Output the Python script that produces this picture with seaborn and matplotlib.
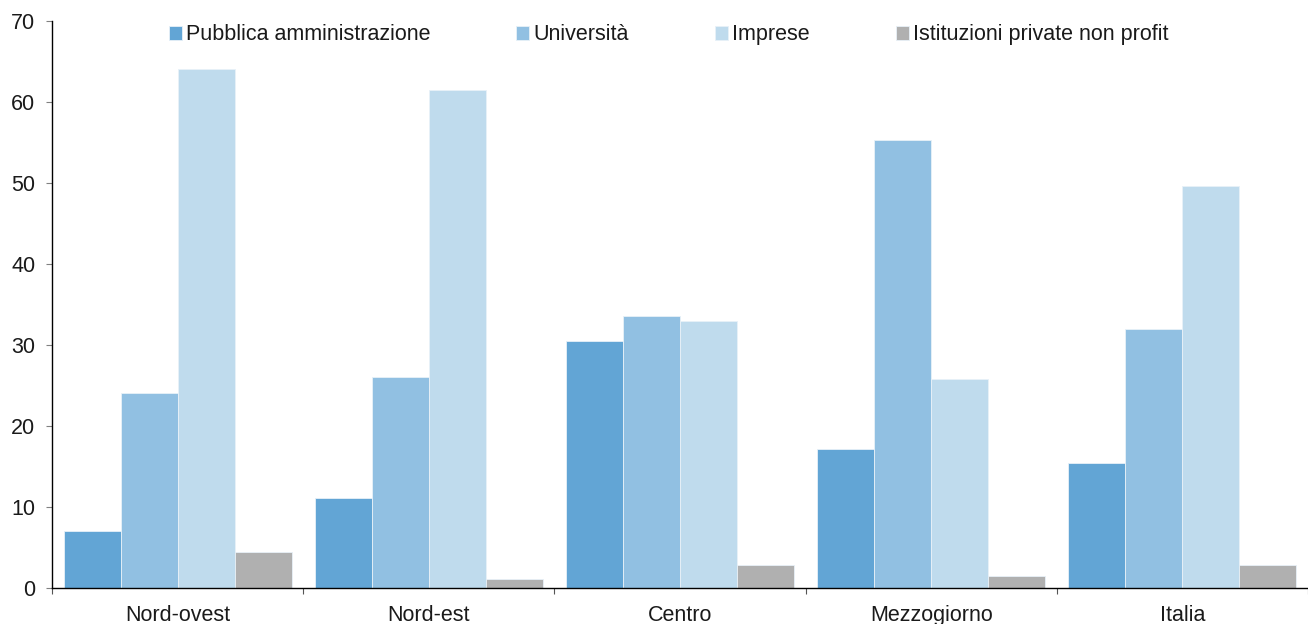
import pandas as pd
import seaborn as sns
import matplotlib.pyplot as plt
from matplotlib.ticker import FixedLocator

regioni = ['Nord-ovest', 'Nord-est', 'Centro', 'Mezzogiorno', 'Italia']
enti = ['Pubblica amministrazione', 'Università', 'Imprese', 'Istituzioni private non profit']

pubblica = [7.0, 11.1, 30.5, 17.2, 15.4]
universita = [24.1, 26.1, 33.6, 55.3, 32.0]
imprese = [64.1, 61.5, 33.0, 25.8, 49.6]
non_profit = [4.5, 1.1, 2.8, 1.5, 2.8]

colori = ['#62a5d5', '#91c0e2', '#bfdbed', '#b0b0b0']

df = pd.DataFrame({
    'regione': regioni * 4,
    'ente': [e for e in enti for _ in regioni],
    'valore': pubblica + universita + imprese + non_profit,
})

sns.set_style('white')
plt.rcParams['font.family'] = ['Liberation Sans', 'DejaVu Sans']

fig = plt.figure(figsize=(13.08, 6.24), dpi=100)
ax = fig.add_axes([0.0398, 0.0577, 0.9602, 0.9087])

sns.barplot(data=df, x='regione', y='valore', hue='ente', palette=colori,
            width=0.908, saturation=1, edgecolor='#e8f1f8', linewidth=0.6, ax=ax)

ax.set_xlim(-0.5, 4.5)
ax.set_ylim(0, 70)
ax.set_yticks(range(0, 71, 10))
ax.set_xlabel('')
ax.set_ylabel('')

for s in ['top', 'right']:
    ax.spines[s].set_visible(False)
for s in ['left', 'bottom']:
    ax.spines[s].set_color('black')
    ax.spines[s].set_linewidth(1.0)

ax.tick_params(axis='y', left=True, length=4.5, width=0.8, color='#808080',
               labelsize=15.5, pad=7.5, labelcolor='#1a1a1a')
ax.tick_params(axis='x', which='major', bottom=False, length=0, labelsize=15.5,
               pad=12, labelcolor='#1a1a1a')
ax.xaxis.set_minor_locator(FixedLocator([-0.5, 0.5, 1.5, 2.5, 3.5, 4.5]))
ax.tick_params(axis='x', which='minor', bottom=True, length=4.5, width=0.8,
               color='#555555')

leg = ax.legend(loc='upper center', bbox_to_anchor=(0.491, 1.028), ncol=4,
                frameon=False, fontsize=15.5, handlelength=0.6, handleheight=0.6,
                handletextpad=0.2, columnspacing=4.0)
for t in leg.get_texts():
    t.set_color('#1a1a1a')

fig.savefig('out.png', dpi=100)
